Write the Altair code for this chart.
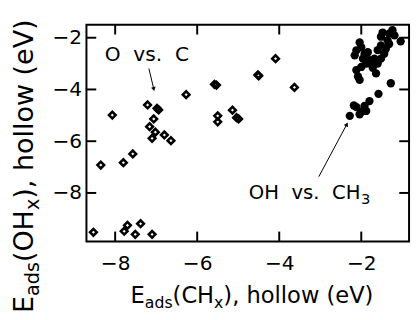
import altair as alt
import pandas as pd

# ---- data ----
# open diamonds: O vs. C
o_x = [-8.07, -7.21, -6.98, -6.94, -7.06, -7.16, -7.02, -7.10, -6.80, -6.64,
       -6.27, -5.58, -5.53, -5.50, -5.50, -5.14, -5.04, -4.99, -4.52, -4.50,
       -4.09, -3.63, -8.35, -7.80, -7.57, -8.53, -7.78, -7.70, -7.38, -7.51, -7.10]
o_y = [-4.99, -4.60, -4.73, -4.79, -5.14, -5.44, -5.65, -5.89, -5.76, -5.98,
       -4.20, -3.80, -3.83, -5.02, -5.25, -4.80, -5.09, -5.14, -3.44, -3.47,
       -2.81, -3.92, -6.92, -6.83, -6.49, -9.52, -9.48, -9.25, -9.19, -9.60, -9.60]
# filled circles: OH vs. CH3
oh_x = [-1.24, -1.32, -1.48, -1.52, -1.04, -1.32, -1.52, -1.40, -1.44, -1.52,
        -1.60, -1.64, -2.04, -2.00, -2.12, -2.16, -1.96, -1.80, -1.68, -1.88,
        -2.00, -2.12, -2.08, -2.04, -1.84, -1.28, -1.58, -1.80, -1.92, -2.12,
        -1.88, -2.04, -2.28, -2.00, -2.18, -1.77, -1.92, -1.60, -1.72, -1.36, -1.19]
oh_y = [-1.71, -1.84, -1.80, -1.96, -2.14, -2.24, -2.30, -2.43, -2.62, -2.81,
        -3.00, -3.38, -2.18, -2.37, -2.49, -2.68, -2.81, -2.87, -2.81, -3.00,
        -3.13, -3.25, -3.50, -3.63, -2.56, -3.76, -4.17, -4.45, -4.64, -4.68,
        -4.83, -4.96, -5.02, -4.86, -4.62, -3.01, -2.63, -2.48, -3.16, -2.10, -1.91]

x_ticks = [-8, -6, -4, -2]
y_ticks = [-2, -4, -6, -8]
x_domain = [-8.70, -0.835]
y_domain = [-9.873, -1.496]

# annotation anchors (data units)
ann1_x, ann1_y = [-8.253], [-2.90]           # "O vs. C"
ann2_x, ann2_y = [-2.02], [-8.243]           # "OH vs. CH3"
arr1 = dict(x=[-7.178], y=[-3.19], x2=[-7.062], y2=[-3.96])
arr2 = dict(x=[-3.035], y=[-7.37], x2=[-2.36], y2=[-5.37])

W, H = 329, 221
FONT = "DejaVu Sans"
xs = alt.Scale(domain=x_domain, nice=False, zero=False)
ys = alt.Scale(domain=y_domain, nice=False, zero=False)

xaxis = alt.Axis(values=x_ticks, title=None, domain=False, ticks=False, tickSize=0,
                 grid=False, labelFont=FONT, labelFontSize=20.5, labelPadding=13,
                 labelColor="black", format="d")
yaxis = alt.Axis(values=y_ticks, title=None, domain=False, ticks=False, tickSize=0,
                 grid=False, labelFont=FONT, labelFontSize=20.5, labelPadding=5,
                 labelColor="black", format="d")

dfo = pd.DataFrame({"x": o_x, "y": o_y})
dfh = pd.DataFrame({"x": oh_x, "y": oh_y})

diam = alt.Chart(dfo).mark_point(shape="diamond", filled=False, stroke="black",
                                 strokeWidth=2.6, size=46, opacity=1).encode(
    x=alt.X("x:Q", scale=xs, axis=xaxis),
    y=alt.Y("y:Q", scale=ys, axis=yaxis))
circ = alt.Chart(dfh).mark_circle(color="black", size=72, opacity=1).encode(
    x=alt.X("x:Q", scale=xs), y=alt.Y("y:Q", scale=ys))

dxt = pd.DataFrame({"v": x_ticks})
dyt = pd.DataFrame({"v": y_ticks})
TL = 10
tick_b = alt.Chart(dxt).mark_rule(color="black", strokeWidth=2).encode(
    x=alt.X("v:Q", scale=xs), y=alt.value(H), y2=alt.value(H - TL))
tick_t = alt.Chart(dxt).mark_rule(color="black", strokeWidth=2).encode(
    x=alt.X("v:Q", scale=xs), y=alt.value(0), y2=alt.value(TL))
tick_l = alt.Chart(dyt).mark_rule(color="black", strokeWidth=2).encode(
    y=alt.Y("v:Q", scale=ys), x=alt.value(0), x2=alt.value(TL))
tick_r = alt.Chart(dyt).mark_rule(color="black", strokeWidth=2).encode(
    y=alt.Y("v:Q", scale=ys), x=alt.value(W), x2=alt.value(W - TL))


def arrow(d, ang):
    df = pd.DataFrame(d)
    line = alt.Chart(df).mark_rule(color="black", strokeWidth=1).encode(
        x=alt.X("x:Q", scale=xs), y=alt.Y("y:Q", scale=ys),
        x2="x2:Q", y2="y2:Q")
    head = alt.Chart(df).mark_point(shape="triangle", filled=True, color="black",
                                    size=22, angle=ang, opacity=1).encode(
        x=alt.X("x2:Q", scale=xs), y=alt.Y("y2:Q", scale=ys))
    return line + head


a1 = arrow(arr1, 167)
a2 = arrow(arr2, 28)

NB = "\u00a0"
t1 = alt.Chart(pd.DataFrame({"x": ann1_x, "y": ann1_y})).mark_text(
    text="O" + NB + " vs." + NB + " C", font=FONT, fontSize=20.5, align="left",
    baseline="alphabetic", color="black").encode(
    x=alt.X("x:Q", scale=xs), y=alt.Y("y:Q", scale=ys))
df2 = pd.DataFrame({"x": ann2_x, "y": ann2_y})
t2 = alt.Chart(df2).mark_text(
    text="OH" + NB + " vs." + NB + " CH", font=FONT, fontSize=20, align="right",
    baseline="alphabetic", color="black").encode(
    x=alt.X("x:Q", scale=xs), y=alt.Y("y:Q", scale=ys))
t2s = alt.Chart(df2).mark_text(
    text="3", font=FONT, fontSize=15, align="left", dx=0.5, dy=5,
    baseline="alphabetic", color="black").encode(
    x=alt.X("x:Q", scale=xs), y=alt.Y("y:Q", scale=ys))

# ---- axis titles with subscripts (DejaVu Sans advance widths) ----
ADV = {"E": .632, "a": .613, "d": .635, "s": .521, "(": .390, ")": .390, "C": .698,
       "H": .752, "O": .787, "x": .592, ",": .318, " ": .318, "h": .634, "o": .612,
       "l": .278, "w": .818, "e": .615, "V": .684}


def adv(s, f):
    return sum(ADV[c] for c in s) * f


one = pd.DataFrame({"k": [0]})


def xtitle(parts, x0, base, F, S, shift):
    layers = []
    x = x0
    for txt, sub in parts:
        f = S if sub else F
        layers.append(alt.Chart(one).mark_text(
            text=txt, font=FONT, fontSize=f, align="left", baseline="alphabetic",
            color="black").encode(x=alt.value(x), y=alt.value(base + (shift if sub else 0))))
        x += adv(txt, f)
    return layers


def ytitle(parts, y0, base, F, S, shift):
    layers = []
    y = y0
    for txt, sub in parts:
        f = S if sub else F
        layers.append(alt.Chart(one).mark_text(
            text=txt, font=FONT, fontSize=f, align="left", baseline="alphabetic",
            angle=270, color="black").encode(
            x=alt.value(base + (shift if sub else 0)), y=alt.value(y)))
        y -= adv(txt, f)
    return layers


xt = xtitle([("E", False), ("ads", True), ("(CH", False), ("x", True),
             ("), hollow (eV)", False)], 45, 283.5, 23, 16, 5.5)
yt = ytitle([("E", False), ("ads", True), ("(OH", False), ("x", True),
             ("), hollow (eV)", False)], 294, -54.7, 27.5, 19.5, 6)

chart = alt.layer(diam, circ, tick_b, tick_t, tick_l, tick_r, a1, a2, t1, t2, t2s,
                  *xt, *yt).properties(
    width=W, height=H,
    autosize=alt.AutoSizeParams(type="none"),
    padding={"left": 80, "top": 14, "right": 3, "bottom": 70},
).configure_view(stroke="black", strokeWidth=2)

chart.save("out.html", embed_options={"renderer": "svg", "actions": False})
